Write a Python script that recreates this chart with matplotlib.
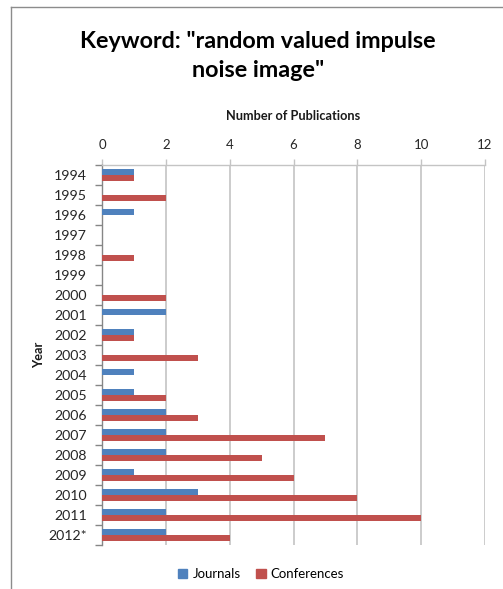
import matplotlib
matplotlib.use("Agg")
import matplotlib.pyplot as plt
from matplotlib.lines import Line2D
from matplotlib.patches import Patch
import numpy as np

years = ["1994", "1995", "1996", "1997", "1998", "1999", "2000", "2001", "2002",
         "2003", "2004", "2005", "2006", "2007", "2008", "2009", "2010", "2011", "2012*"]
journals = [1, 0, 1, 0, 0, 0, 0, 2, 1, 0, 1, 1, 2, 2, 2, 1, 3, 2, 2]
conferences = [1, 2, 0, 0, 1, 0, 2, 0, 1, 3, 0, 2, 3, 7, 5, 6, 8, 10, 4]
x_ticks = [0, 2, 4, 6, 8, 10, 12]

blue = "#4F81BD"
red = "#C0504D"
grid_c = "#C4C4C4"
axis_c = "#868686"
font = "Lato"

plt.rcParams["font.family"] = [font, "DejaVu Sans"]

W, H = 503, 589
fig = plt.figure(figsize=(W / 100, H / 100), dpi=100)

# chart area border (top and left edges)
fig.add_artist(Line2D([11 / W, 1], [1 - 7 / H, 1 - 7 / H], color="#8C8C8C", lw=1.0))
fig.add_artist(Line2D([11 / W, 11 / W], [0, 1 - 7 / H], color="#8C8C8C", lw=1.0))

left, right, top, bottom = 102, 485, 165, 545
ax = fig.add_axes([left / W, 1 - bottom / H, (right - left) / W, (bottom - top) / H])

y = np.arange(len(years))
h = 1 / 3.5
ax.barh(y - h / 2, journals, height=h, color=blue, label="Journals", zorder=3)
ax.barh(y + h / 2, conferences, height=h, color=red, label="Conferences", zorder=3)

ax.set_xlim(0, 12)
ax.set_ylim(len(years) - 0.5, -0.5)
ax.xaxis.tick_top()
ax.xaxis.set_label_position("top")
ax.set_xticks(x_ticks)
ax.set_xticklabels([str(t) for t in x_ticks])
ax.tick_params(axis="x", length=4, width=1, color=grid_c, pad=6,
               labelsize=9.5, labelcolor="#262626")
ax.grid(axis="x", color=grid_c, lw=1.2, zorder=0)

ax.set_yticks(y)
ax.set_yticklabels(years)
ax.set_yticks(np.arange(-0.5, len(years)), minor=True)
ax.tick_params(axis="y", which="major", length=0, pad=11, labelsize=10.2,
               labelcolor="#262626")
ax.tick_params(axis="y", which="minor", length=5, width=1, color=axis_c)

for s in ["right", "bottom"]:
    ax.spines[s].set_visible(False)
ax.spines["top"].set_color(grid_c)
ax.spines["left"].set_color(axis_c)
ax.spines["top"].set_linewidth(1.0)
ax.spines["left"].set_linewidth(1.0)

ax.set_xlabel("Number of Publications", fontsize=9.2, fontweight="bold",
              labelpad=14, color="#1a1a1a")
fig.text(39 / W, 1 - 355 / H, "Year", rotation=90, ha="center", va="center",
         fontsize=9.2, fontweight="bold", color="#1a1a1a")

fig.text(258 / W, 1 - 56 / H, 'Keyword: "random valued impulse\nnoise image"',
         ha="center", va="center", fontsize=16.8, fontweight="bold",
         linespacing=1.5, color="#000000")

handles = [Patch(color=blue, label="Journals"), Patch(color=red, label="Conferences")]
fig.legend(handles=handles, loc="center", bbox_to_anchor=(261 / W, 1 - 574 / H),
           ncol=2, frameon=False, fontsize=9.5, handlelength=0.7, handleheight=0.7,
           handletextpad=0.4, columnspacing=1.2)

fig.savefig("out.png", dpi=100)
